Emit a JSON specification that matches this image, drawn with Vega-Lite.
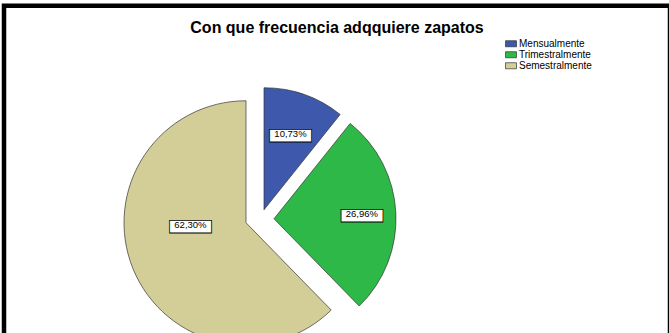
{
  "$schema": "https://vega.github.io/schema/vega-lite/v6.json",
  "width": 666,
  "height": 345,
  "autosize": {"type": "none"},
  "padding": {"left": 4, "top": 5.75, "right": 0, "bottom": 0},
  "background": "white",
  "view": {"stroke": "black", "strokeWidth": 4.5},
  "title": {
    "text": "Con que frecuencia adqquiere zapatos",
    "font": "Liberation Sans",
    "fontSize": 16,
    "fontWeight": "bold",
    "color": "black",
    "anchor": "middle",
    "offset": -30
  },
  "data": {
    "values": [
      {"cat": "Mensualmente", "pct": 10.73, "label": "10,73%", "orden": 1},
      {"cat": "Trimestralmente", "pct": 26.96, "label": "26,96%", "orden": 2},
      {"cat": "Semestralmente", "pct": 62.30, "label": "62,30%", "orden": 3}
    ]
  },
  "encoding": {
    "theta": {"field": "pct", "type": "quantitative", "stack": true},
    "order": {"field": "orden", "type": "quantitative"}
  },
  "layer": [
    {
      "mark": {"type": "arc", "x": 242, "y": 217, "outerRadius": 122, "stroke": "#333", "strokeWidth": 0.7},
      "encoding": {
        "color": {
          "field": "cat", "type": "nominal",
          "scale": {"domain": ["Mensualmente", "Trimestralmente", "Semestralmente"], "range": ["#3E58AC", "#2EB848", "#D3CE97"]},
          "legend": {
            "title": null, "orient": "none", "legendX": 501, "legendY": 32,
            "symbolType": "M-1,-0.55H1V0.55H-1Z", "symbolSize": 121,
            "symbolStrokeColor": "#333", "symbolStrokeWidth": 0.7,
            "labelFont": "Liberation Sans", "labelFontSize": 10, "labelColor": "black",
            "labelOffset": 2, "rowPadding": -1, "padding": 0
          }
        },
        "opacity": {"condition": {"test": "datum.cat === 'Semestralmente'", "value": 1}, "value": 0}
      }
    },
    {
      "mark": {"type": "arc", "x": 260, "y": 204, "outerRadius": 122, "stroke": "#333", "strokeWidth": 0.7},
      "encoding": {
        "color": {"field": "cat", "type": "nominal"},
        "opacity": {"condition": {"test": "datum.cat === 'Mensualmente'", "value": 1}, "value": 0}
      }
    },
    {
      "mark": {"type": "arc", "x": 270, "y": 213, "outerRadius": 122, "stroke": "#333", "strokeWidth": 0.7},
      "encoding": {
        "color": {"field": "cat", "type": "nominal"},
        "opacity": {"condition": {"test": "datum.cat === 'Trimestralmente'", "value": 1}, "value": 0}
      }
    },
    {
      "mark": {"type": "text", "x": 242, "y": 217, "radius": 60, "dy": -25, "font": "Liberation Sans", "fontSize": 42, "fill": "white", "stroke": "black", "strokeWidth": 0.8, "align": "center", "baseline": "middle"},
      "encoding": {
        "text": {"value": "▬"},
        "opacity": {"condition": {"test": "datum.cat === 'Semestralmente'", "value": 1}, "value": 0}
      }
    },
    {
      "mark": {"type": "text", "x": 260, "y": 204, "radius": 80, "dy": -5, "font": "Liberation Sans", "fontSize": 42, "fill": "white", "stroke": "black", "strokeWidth": 0.8, "align": "center", "baseline": "middle"},
      "encoding": {
        "text": {"value": "▬"},
        "opacity": {"condition": {"test": "datum.cat === 'Mensualmente'", "value": 1}, "value": 0}
      }
    },
    {
      "mark": {"type": "text", "x": 270, "y": 213, "radius": 88, "dy": -5, "font": "Liberation Sans", "fontSize": 42, "fill": "white", "stroke": "black", "strokeWidth": 0.8, "align": "center", "baseline": "middle"},
      "encoding": {
        "text": {"value": "▬"},
        "opacity": {"condition": {"test": "datum.cat === 'Trimestralmente'", "value": 1}, "value": 0}
      }
    },
    {
      "mark": {"type": "text", "x": 242, "y": 217, "radius": 60, "dy": -20, "font": "Liberation Sans", "fontSize": 9.5, "fill": "black", "align": "center", "baseline": "middle"},
      "encoding": {
        "text": {"field": "label"},
        "opacity": {"condition": {"test": "datum.cat === 'Semestralmente'", "value": 1}, "value": 0}
      }
    },
    {
      "mark": {"type": "text", "x": 260, "y": 204, "radius": 80, "font": "Liberation Sans", "fontSize": 9.5, "fill": "black", "align": "center", "baseline": "middle"},
      "encoding": {
        "text": {"field": "label"},
        "opacity": {"condition": {"test": "datum.cat === 'Mensualmente'", "value": 1}, "value": 0}
      }
    },
    {
      "mark": {"type": "text", "x": 270, "y": 213, "radius": 88, "font": "Liberation Sans", "fontSize": 9.5, "fill": "black", "align": "center", "baseline": "middle"},
      "encoding": {
        "text": {"field": "label"},
        "opacity": {"condition": {"test": "datum.cat === 'Trimestralmente'", "value": 1}, "value": 0}
      }
    }
  ]
}
